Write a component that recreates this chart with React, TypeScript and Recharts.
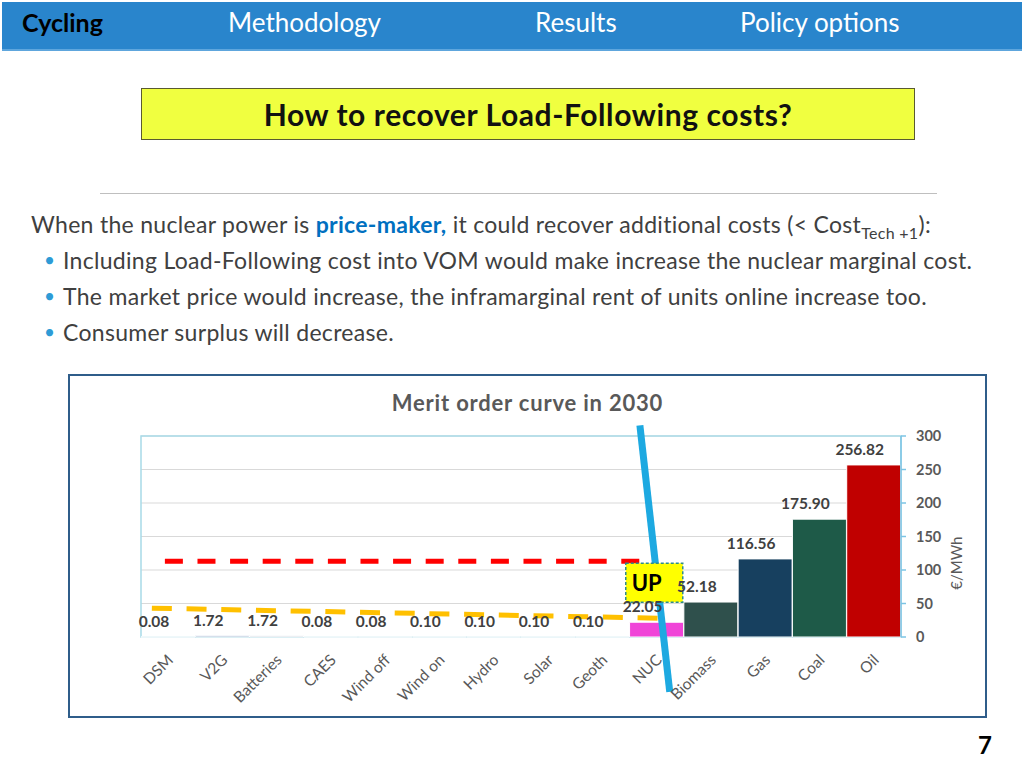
import React from "react";
import {
  Bar,
  CartesianGrid,
  Cell,
  ComposedChart,
  LabelList,
  ReferenceArea,
  ReferenceLine,
  XAxis,
  YAxis,
} from "recharts";

const technologies = ["DSM", "V2G", "Batteries", "CAES", "Wind off", "Wind on", "Hydro", "Solar", "Geoth", "NUC", "Biomass", "Gas", "Coal", "Oil"];
const marginalCost = [0.08, 1.72, 1.72, 0.08, 0.08, 0.1, 0.1, 0.1, 0.1, 22.05, 52.18, 116.56, 175.9, 256.82];
const barColors = ["#9fb4cc", "#7f9dc4", "#c5d0dc", "#b9c6d4", "#b9c6d4", "#b9c6d4", "#b9c6d4", "#b9c6d4", "#b9c6d4", "#f044d8", "#2f504c", "#17405f", "#1e5a48", "#c00000"];
const yTicks = [0, 50, 100, 150, 200, 250, 300];

// hand-drawn annotations, in data units (x = position along the 14 categories, y = €/MWh)
const priceMakerLine = [{ x: 0.44, y: 113 }, { x: 9.2, y: 113 }];
const priceTakerLine = [{ x: 0.2, y: 43 }, { x: 9.6, y: 28 }];
const cutLine = [{ x: 9.19, y: 316 }, { x: 9.74, y: -82 }];
const upBox = { x1: 8.93, x2: 9.98, y1: 52, y2: 110 };

const chartData = technologies.map((tech, i) => ({ tech, pos: i + 0.5, cost: marginalCost[i] }));

const FONT = "Lato, 'Open Sans', sans-serif";

const BarValueLabel = (props: any) => {
  const { x, y, width, value } = props;
  return (
    <text x={x + width / 2 - 14} y={y - 10} textAnchor="middle" fill="#404040" fontSize={15.5} fontWeight="bold" fontFamily={FONT}>
      {Number(value).toFixed(2)}
    </text>
  );
};

const TechTick = (props: any) => {
  const { x, y, payload } = props;
  return (
    <text x={x + 6} y={y + 16} textAnchor="end" fill="#595959" fontSize={15.5} fontFamily={FONT} transform={`rotate(-45, ${x + 6}, ${y + 16})`}>
      {payload.value}
    </text>
  );
};

function MeritOrderChart() {
  return (
    <ComposedChart width={917} height={342} data={chartData} barCategoryGap={0} margin={{ top: 61, left: 72, right: 25, bottom: 10 }} style={{ fontFamily: FONT }}>
      <CartesianGrid vertical={false} stroke="#d9d9d9" />
      <XAxis dataKey="tech" interval={0} axisLine={false} tickLine={false} height={70} tick={<TechTick />} />
      <XAxis xAxisId="n" dataKey="pos" type="number" domain={[0, 14]} allowDataOverflow hide />
      <YAxis
        orientation="right"
        domain={[0, 300]}
        ticks={yTicks}
        width={60}
        axisLine={{ stroke: "#7cc4e4", strokeWidth: 1.5 }}
        tickLine={{ stroke: "#7cc4e4", strokeWidth: 1.5 }}
        tickSize={5}
        tickMargin={10}
        tick={{ fill: "#595959", fontSize: 14.5, fontWeight: "bold" }}
        label={{ value: "€/MWh", angle: -90, position: "insideRight", offset: 4, fill: "#595959", fontSize: 15 }}
      />
      <ReferenceArea y1={0} y2={300} fill="none" stroke="#a8dae8" strokeWidth={1.5} />
      <Bar dataKey="cost" stroke="#ffffff" strokeWidth={1} isAnimationActive={false}>
        {chartData.map((d, i) => (
          <Cell key={d.tech} fill={barColors[i]} />
        ))}
        <LabelList dataKey="cost" content={<BarValueLabel />} />
      </Bar>
      <ReferenceLine xAxisId="n" segment={priceMakerLine} stroke="#ff0000" strokeWidth={5} strokeDasharray="18 14.6" />
      <ReferenceLine xAxisId="n" segment={priceTakerLine} stroke="#ffc000" strokeWidth={5} strokeDasharray="20 14.7" />
      <ReferenceLine xAxisId="n" segment={cutLine} stroke="#1da9e1" strokeWidth={7} ifOverflow="visible" />
      <ReferenceArea
        xAxisId="n"
        x1={upBox.x1}
        x2={upBox.x2}
        y1={upBox.y1}
        y2={upBox.y2}
        fill="#ffff00"
        fillOpacity={1}
        stroke="#2e8b8b"
        strokeWidth={1.5}
        strokeDasharray="3 2"
        zIndex={1000}
        label={{ value: "UP", position: "insideLeft", offset: 6, fill: "#000", fontSize: 22, fontWeight: "bold" }}
      />
    </ComposedChart>
  );
}

const tabStyle: React.CSSProperties = { position: "absolute", top: 7, fontSize: 26, color: "#ffffff", lineHeight: "30px" };
const lineStyle: React.CSSProperties = { position: "absolute", fontSize: 23, letterSpacing: 0.3, color: "#404040", lineHeight: "26px", whiteSpace: "nowrap" };
const bullet = <span style={{ position: "absolute", left: -19, color: "#2e9bd6", fontSize: 19 }}>•</span>;

export default function App() {
  return (
    <div style={{ position: "absolute", left: 0, top: 0, width: 1024, height: 768, background: "#fff", overflow: "hidden", fontFamily: FONT }}>
      <div style={{ position: "absolute", left: 2, top: 2, width: 1020, height: 47, background: "#2985cc", borderBottom: "2px solid #5ea6dd" }} />
      <div style={{ ...tabStyle, left: 22, color: "#000", fontWeight: "bold", fontSize: 25 }}>Cycling</div>
      <div style={{ ...tabStyle, left: 228 }}>Methodology</div>
      <div style={{ ...tabStyle, left: 535 }}>Results</div>
      <div style={{ ...tabStyle, left: 740 }}>Policy options</div>

      <div
        style={{
          position: "absolute",
          left: 141,
          top: 88,
          width: 772,
          height: 50,
          background: "#f0ff40",
          border: "1px solid #5a5a30",
          display: "flex",
          alignItems: "center",
          justifyContent: "center",
          fontSize: 30,
          letterSpacing: 0.6,
          fontWeight: "bold",
          color: "#111",
        }}
      >
        How to recover Load-Following costs?
      </div>

      <div style={{ position: "absolute", left: 100, top: 193, width: 837, height: 1, background: "#bfbfbf" }} />

      <div style={{ ...lineStyle, left: 31, top: 211 }}>
        When the nuclear power is <span style={{ color: "#0070c0", fontWeight: "bold" }}>price-maker,</span> it could recover additional costs (&lt; Cost
        <sub style={{ fontSize: 16 }}>Tech +1</sub>):
      </div>
      <div style={{ ...lineStyle, left: 63, top: 247 }}>
        {bullet}Including Load-Following cost into VOM would make increase the nuclear marginal cost.
      </div>
      <div style={{ ...lineStyle, left: 63, top: 283 }}>
        {bullet}The market price would increase, the inframarginal rent of units online increase too.
      </div>
      <div style={{ ...lineStyle, left: 63, top: 319 }}>
        {bullet}Consumer surplus will decrease.
      </div>

      <div style={{ position: "absolute", left: 68, top: 374, width: 915, height: 340, border: "2px solid #2f5d8a" }} />
      <div style={{ position: "absolute", left: 0, top: 389, width: 1055, textAlign: "center", fontSize: 22, letterSpacing: 0.8, fontWeight: "bold", color: "#595959", lineHeight: "28px" }}>
        Merit order curve in 2030
      </div>
      <div style={{ position: "absolute", left: 69, top: 375 }}>
        <MeritOrderChart />
      </div>

      <div style={{ position: "absolute", left: 978, top: 731, fontSize: 24, fontWeight: "bold", color: "#000", lineHeight: "28px" }}>7</div>
    </div>
  );
}
